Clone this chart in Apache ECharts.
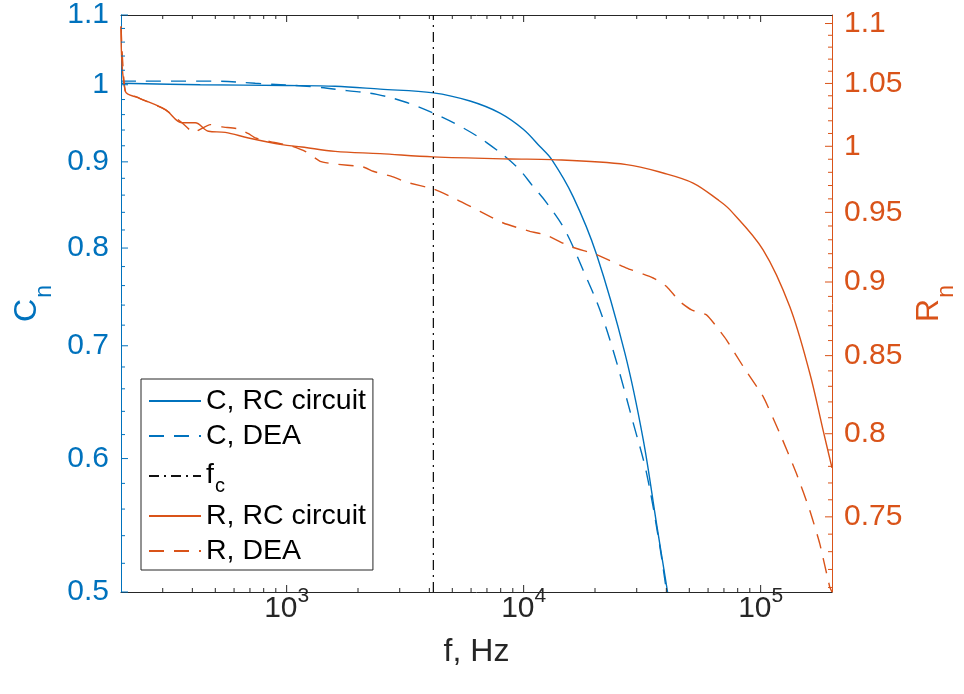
<!DOCTYPE html>
<html>
<head>
<meta charset="utf-8">
<script src="https://cdn.jsdelivr.net/npm/echarts@6.0.0/dist/echarts.min.js"></script>
<style>
html,body{margin:0;padding:0;background:#ffffff;}
#chart{width:964px;height:694px;}
</style>
</head>
<body>
<div id="chart"></div>
<script>
// ---------------- data ----------------
const xRange = [200, 200000];
const cRange = [0.5, 1.1];
const rRange = [0.7075, 1.1073];

const xMajorTicks = [1000, 10000, 100000];
const xMinorTicks = [300, 400, 500, 600, 700, 800, 900,
  2000, 3000, 4000, 5000, 6000, 7000, 8000, 9000,
  20000, 30000, 40000, 50000, 60000, 70000, 80000, 90000];
const cMajorTicks = [0.5, 0.6, 0.7, 0.8, 0.9, 1, 1.1];
const cMinorTicks = [0.52, 0.54, 0.56, 0.58, 0.62, 0.64, 0.66, 0.68, 0.72, 0.74, 0.76, 0.78,
  0.82, 0.84, 0.86, 0.88, 0.92, 0.94, 0.96, 0.98, 1.02, 1.04, 1.06, 1.08];
const rMajorTicks = [0.75, 0.8, 0.85, 0.9, 0.95, 1, 1.05, 1.1];
const rMinorTicks = [0.71, 0.72, 0.73, 0.74, 0.76, 0.77, 0.78, 0.79, 0.81, 0.82, 0.83, 0.84,
  0.86, 0.87, 0.88, 0.89, 0.91, 0.92, 0.93, 0.94, 0.96, 0.97, 0.98, 0.99,
  1.01, 1.02, 1.03, 1.04, 1.06, 1.07, 1.08, 1.09];

// C, RC circuit
const freqC_RC = [200, 432, 1000, 1602, 2480, 4158, 5938, 7944, 9962, 11716, 13122, 16186, 20310, 26740, 31940, 36360, 40480];
const valC_RC  = [1.002, 1.000, 0.999, 0.998, 0.994, 0.989, 0.978, 0.962, 0.941, 0.919, 0.903, 0.858, 0.793, 0.693, 0.616, 0.549, 0.500];

// C, DEA
const freqC_DEA = [200, 500, 737, 1319, 1794, 2400, 3212, 4158, 5388, 6982, 9344, 10980, 12504, 14934, 17836, 20980, 24260, 28980, 33020, 37560, 40080];
const valC_DEA  = [1.005, 1.005, 1.002, 0.997, 0.992, 0.987, 0.976, 0.962, 0.945, 0.924, 0.894, 0.870, 0.851, 0.820, 0.776, 0.735, 0.690, 0.630, 0.588, 0.532, 0.500];

// cut-off frequency
const fcValue = [4160];

// R, RC circuit
const freqR_RC = [200, 208.5, 237.3, 307.6, 361.7, 411.5, 468.1, 550.7, 690.3, 954.6, 1159, 1602, 2480, 4158, 8754, 13122, 27180, 38780, 51880, 65940, 74100, 102380, 132640, 161080, 183260, 200000];
const valR_RC  = [1.0975, 1.0437, 1.0383, 1.0289, 1.0184, 1.0184, 1.0117, 1.0109, 1.0065, 1.0013, 0.9995, 0.9961, 0.9943, 0.9918, 0.9902, 0.9897, 0.9859, 0.9795, 0.9719, 0.9594, 0.9520, 0.9228, 0.8830, 0.8386, 0.8024, 0.7791];

// R, DEA
const freqR_DEA = [200, 208.5, 237.3, 307.6, 361.7, 404.6, 476.1, 533.1, 626.4, 690.3, 736.9, 852, 1035, 1197, 1384, 1556, 2102, 2316, 2812, 3222, 4158, 5234, 6544, 8204, 10634, 12504, 15678, 20310, 27180, 35200, 40080, 45600, 51100, 59080, 65120, 71720, 84280, 102380, 120380, 141580, 161080, 177460, 195580, 200000];
const valR_DEA  = [1.0975, 1.0437, 1.0383, 1.0289, 1.0184, 1.0109, 1.0170, 1.0152, 1.0136, 1.0099, 1.0065, 1.0036, 1.0005, 0.9961, 0.9884, 0.9866, 0.9841, 0.9808, 0.9765, 0.9724, 0.9674, 0.9594, 0.9507, 0.9422, 0.9361, 0.9333, 0.9252, 0.9193, 0.9098, 0.9028, 0.8969, 0.8864, 0.8807, 0.8773, 0.8694, 0.8605, 0.8430, 0.8235, 0.8003, 0.7757, 0.7539, 0.7347, 0.7104, 0.7075];

const seriesNames = ['C, RC circuit', 'C, DEA', 'f_c', 'R, RC circuit', 'R, DEA'];

// ---------------- styling ----------------
const FONT = '"Liberation Sans", Arial, Helvetica, sans-serif';
const BLUE = '#0072BD';
const ORANGE = '#D95319';
const AXISC = '#262626';
const TICK_FS = 30;
const NAME_FS = 32;
const LW = 1.4;
const MAJOR_LEN = 7;
const MINOR_LEN = 4;

function pairs(xs, ys) { return xs.map((x, i) => [x, ys[i]]); }
function numLabel(v) { return String(parseFloat(Number(v).toFixed(2))); }

// tick marks drawn through the axes' own scales (api.coord)
function xTickSeries(values, len) {
  return {
    type: 'custom', xAxisIndex: 0, yAxisIndex: 0, silent: true, clip: false, z: 5,
    data: values.map(v => [v, cRange[0]]),
    encode: { x: 0, y: 1 },
    renderItem: (params, api) => {
      const v = api.value(0);
      const b = api.coord([v, cRange[0]]);
      const t = api.coord([v, cRange[1]]);
      return {
        type: 'group', children: [
          { type: 'line', shape: { x1: b[0], y1: b[1], x2: b[0], y2: b[1] - len }, style: { stroke: AXISC, lineWidth: 1 } },
          { type: 'line', shape: { x1: t[0], y1: t[1], x2: t[0], y2: t[1] + len }, style: { stroke: AXISC, lineWidth: 1 } }
        ]
      };
    }
  };
}
function yTickSeries(values, len, yIndex, side, color) {
  return {
    type: 'custom', xAxisIndex: 0, yAxisIndex: yIndex, silent: true, clip: false, z: 5,
    data: values.map(v => [side === 'left' ? xRange[0] : xRange[1], v]),
    encode: { x: 0, y: 1 },
    renderItem: (params, api) => {
      const p = api.coord([api.value(0), api.value(1)]);
      const dir = side === 'left' ? 1 : -1;
      return { type: 'line', shape: { x1: p[0], y1: p[1], x2: p[0] + dir * len, y2: p[1] }, style: { stroke: color, lineWidth: 1 } };
    }
  };
}

const option = {
  animation: false,
  backgroundColor: '#ffffff',
  grid: { left: 121, right: 132, top: 15, bottom: 102, containLabel: false, outerBoundsMode: 'none' },
  legend: {
    show: true, orient: 'vertical', left: 141, top: 379,
    data: seriesNames,
    itemWidth: 52, itemHeight: 14, itemGap: 5,
    padding: [7, 7, 4, 7],
    borderColor: AXISC, borderWidth: 1, backgroundColor: '#ffffff',
    itemStyle: { opacity: 0 },
    formatter: name => name === 'f_c' ? '{f|f}{c|c}' : name,
    textStyle: {
      fontSize: 28.5, fontFamily: FONT, color: '#000000', lineHeight: 30,
      rich: {
        f: { fontSize: 28.5, fontFamily: FONT, color: '#000000', lineHeight: 30, verticalAlign: 'top' },
        c: { fontSize: 20, fontFamily: FONT, color: '#000000', lineHeight: 20, padding: [20, 0, 0, 1] }
      }
    }
  },
  xAxis: [
    {
      type: 'log', logBase: 10, min: xRange[0], max: xRange[1], gridIndex: 0, position: 'bottom',
      splitLine: { show: false }, minorTick: { show: false },
      axisLine: { show: true, onZero: false, lineStyle: { color: AXISC, width: 1 } },
      axisTick: { show: false },
      axisLabel: {
        show: true, customValues: xMajorTicks, margin: -6,
        formatter: v => '{b|10}{s|' + Math.round(Math.log10(v)) + '}',
        rich: {
          b: { fontSize: TICK_FS, fontFamily: FONT, color: AXISC, lineHeight: 38, verticalAlign: 'bottom' },
          s: { fontSize: 21, fontFamily: FONT, color: AXISC, verticalAlign: 'top' }
        }
      },
      name: 'f, Hz', nameLocation: 'middle', nameGap: 44,
      nameTextStyle: { fontSize: NAME_FS, fontFamily: FONT, color: AXISC }
    },
    {
      type: 'log', logBase: 10, min: xRange[0], max: xRange[1], gridIndex: 0, position: 'top',
      splitLine: { show: false }, minorTick: { show: false },
      axisLine: { show: true, onZero: false, lineStyle: { color: AXISC, width: 1 } },
      axisTick: { show: false }, axisLabel: { show: false }
    }
  ],
  yAxis: [
    {
      type: 'log', logBase: 10, min: cRange[0], max: cRange[1], gridIndex: 0, position: 'left',
      splitLine: { show: false }, minorTick: { show: false },
      axisLine: { show: true, onZero: false, lineStyle: { color: BLUE, width: 1 } },
      axisTick: { show: false },
      axisLabel: { show: true, customValues: cMajorTicks, margin: 12, formatter: numLabel, fontSize: TICK_FS, fontFamily: FONT, color: BLUE },
      name: '{m|C}{s|n}', nameLocation: 'middle', nameGap: 62,
      nameTextStyle: {
        color: BLUE, fontFamily: FONT,
        rich: {
          m: { fontSize: NAME_FS, fontFamily: FONT, color: BLUE, lineHeight: 32, verticalAlign: 'top' },
          s: { fontSize: 23, fontFamily: FONT, color: BLUE, padding: [22, 0, 0, 1] }
        }
      }
    },
    {
      type: 'log', logBase: 10, min: rRange[0], max: rRange[1], gridIndex: 0, position: 'right',
      splitLine: { show: false }, minorTick: { show: false },
      axisLine: { show: true, onZero: false, lineStyle: { color: ORANGE, width: 1 } },
      axisTick: { show: false },
      axisLabel: { show: true, customValues: rMajorTicks, margin: 12, formatter: numLabel, fontSize: TICK_FS, fontFamily: FONT, color: ORANGE },
      name: '{m|R}{s|n}', nameLocation: 'middle', nameGap: 80,
      nameTextStyle: {
        color: ORANGE, fontFamily: FONT,
        rich: {
          m: { fontSize: NAME_FS, fontFamily: FONT, color: ORANGE, lineHeight: 32, verticalAlign: 'top' },
          s: { fontSize: 23, fontFamily: FONT, color: ORANGE, padding: [22, 0, 0, 1] }
        }
      }
    }
  ],
  series: [
    {
      name: seriesNames[0], type: 'line', xAxisIndex: 0, yAxisIndex: 0,
      data: pairs(freqC_RC, valC_RC), symbol: 'none', smooth: 0.35,
      lineStyle: { color: BLUE, width: LW, type: 'solid' }, itemStyle: { color: BLUE }, z: 3
    },
    {
      name: seriesNames[1], type: 'line', xAxisIndex: 0, yAxisIndex: 0,
      data: pairs(freqC_DEA, valC_DEA), symbol: 'none', smooth: 0.35,
      lineStyle: { color: BLUE, width: LW, type: [15, 10] }, itemStyle: { color: BLUE }, z: 3
    },
    {
      name: seriesNames[2], type: 'line', xAxisIndex: 0, yAxisIndex: 0,
      data: [[fcValue[0], cRange[0]], [fcValue[0], cRange[1]]], symbol: 'none',
      lineStyle: { color: '#111111', width: 1.3, type: [10, 5, 2, 5] }, itemStyle: { color: '#111111' }, z: 4
    },
    {
      name: seriesNames[3], type: 'line', xAxisIndex: 0, yAxisIndex: 1,
      data: pairs(freqR_RC, valR_RC), symbol: 'none', smooth: 0.35,
      lineStyle: { color: ORANGE, width: LW, type: 'solid' }, itemStyle: { color: ORANGE }, z: 3
    },
    {
      name: seriesNames[4], type: 'line', xAxisIndex: 0, yAxisIndex: 1,
      data: pairs(freqR_DEA, valR_DEA), symbol: 'none', smooth: 0.15,
      lineStyle: { color: ORANGE, width: LW, type: [15, 10] }, itemStyle: { color: ORANGE }, z: 3
    },
    xTickSeries(xMajorTicks, MAJOR_LEN),
    xTickSeries(xMinorTicks, MINOR_LEN),
    yTickSeries(cMajorTicks, MAJOR_LEN, 0, 'left', BLUE),
    yTickSeries(cMinorTicks, MINOR_LEN, 0, 'left', BLUE),
    yTickSeries(rMajorTicks, MAJOR_LEN, 1, 'right', ORANGE),
    yTickSeries(rMinorTicks, MINOR_LEN, 1, 'right', ORANGE)
  ]
};

const chart = echarts.init(document.getElementById('chart'), null, { renderer: 'canvas' });
chart.setOption(option);
</script>
</body>
</html>
